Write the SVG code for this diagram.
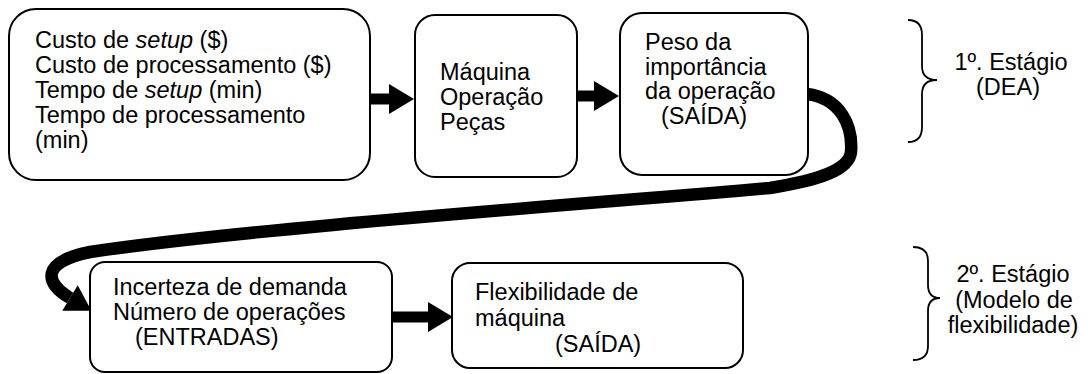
<svg xmlns="http://www.w3.org/2000/svg" width="1088" height="374" viewBox="0 0 1088 374">
<style>
.box{fill:#fff;stroke:#000;stroke-width:2}
text{font-family:"Liberation Sans",Arial,sans-serif;font-size:23.5px;fill:#000}
.c{text-anchor:middle}
.i{font-style:italic}
.conn{fill:none;stroke:#000;stroke-width:11}
.curve{fill:none;stroke:#000;stroke-width:12.5}
.brace{fill:none;stroke:#000;stroke-width:1.8}
</style>
<defs>
<marker id="ah" markerUnits="userSpaceOnUse" markerWidth="26" markerHeight="30" refX="0" refY="15" orient="auto" overflow="visible">
<path d="M0,0 L25,15 L0,30 Z" fill="#000"/>
</marker>
</defs>
<g id="connectors">
<line class="conn" x1="369" y1="99" x2="389" y2="99" marker-end="url(#ah)"/>
<line class="conn" x1="576" y1="96" x2="594" y2="96" marker-end="url(#ah)"/>
<line class="conn" x1="391" y1="317" x2="428" y2="317" marker-end="url(#ah)"/>
<path class="curve" d="M807 94 C840 98, 853 125, 851 152 C849 170, 820 180, 770 188 C600 203, 250 228, 90 252 C40 262, 45 283, 70 298" marker-end="url(#ah)"/>
</g>
<g id="n1">
<rect class="box" x="9" y="9" width="361" height="171" rx="27"/>
<text x="35" y="48">Custo de <tspan class="i">setup</tspan> ($)</text>
<text x="35" y="73">Custo de processamento ($)</text>
<text x="35" y="98">Tempo de <tspan class="i">setup</tspan> (min)</text>
<text x="35" y="123">Tempo de processamento</text>
<text x="35" y="148">(min)</text>
</g>
<g id="n2">
<rect class="box" x="415" y="15" width="162" height="162" rx="20"/>
<text x="440" y="80">Máquina</text>
<text x="440" y="105">Operação</text>
<text x="440" y="130">Peças</text>
</g>
<g id="n3">
<rect class="box" x="620" y="13" width="188" height="162" rx="22"/>
<text x="645" y="50">Peso da</text>
<text x="645" y="75">importância</text>
<text x="645" y="99">da operação</text>
<text x="661" y="124">(SAÍDA)</text>
</g>
<g id="n4">
<rect class="box" x="90" y="262" width="302" height="110" rx="15"/>
<text x="113" y="295">Incerteza de demanda</text>
<text x="113" y="320">Número de operações</text>
<text x="135" y="345">(ENTRADAS)</text>
</g>
<g id="n5">
<rect class="box" x="452" y="263" width="291" height="105" rx="18"/>
<text x="475" y="300">Flexibilidade de</text>
<text x="475" y="326">máquina</text>
<text x="555" y="352">(SAÍDA)</text>
</g>
<g id="stage1">
<path class="brace" d="M908 20 Q922 20 922 35 L922 66 Q922 80 937 80 Q922 80 922 94 L922 127 Q922 142 908 142"/>
<text class="c" x="1011" y="70">1º. Estágio</text>
<text class="c" x="1008" y="95">(DEA)</text>
</g>
<g id="stage2">
<path class="brace" d="M913 247 Q928 247 928 261 L928 285 Q928 298 940 298 Q928 298 928 311 L928 346 Q928 360 913 360"/>
<text class="c" x="1013" y="282">2º. Estágio</text>
<text class="c" x="1014" y="308">(Modelo de</text>
<text class="c" x="1013" y="333">flexibilidade)</text>
</g>
</svg>
